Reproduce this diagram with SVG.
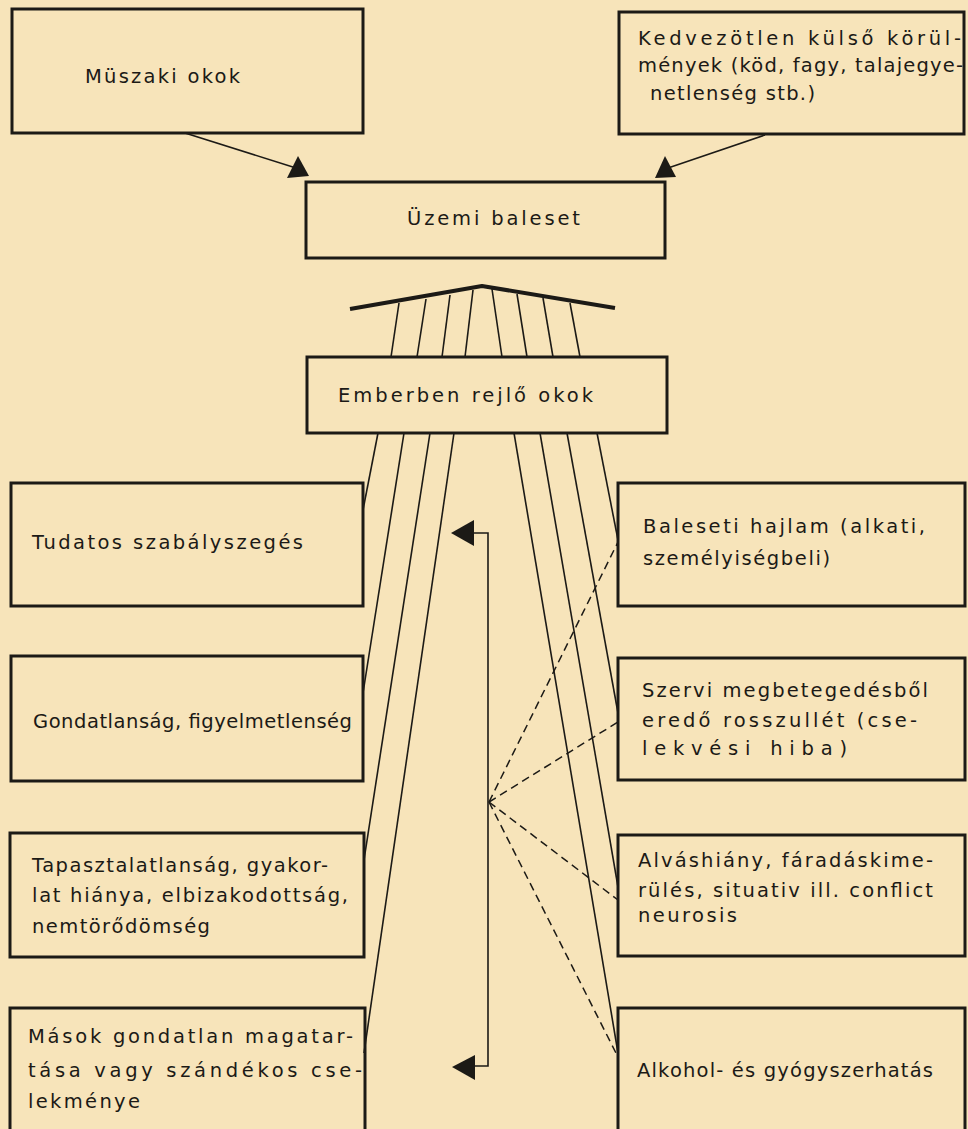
<svg xmlns="http://www.w3.org/2000/svg" width="968" height="1129" viewBox="0 0 968 1129">
<style>
.bg{fill:#F7E4BA}
.box{fill:none;stroke:#1c1a16;stroke-width:3}
.ln{fill:none;stroke:#1c1a16;stroke-width:1.6}
.dash{fill:none;stroke:#1c1a16;stroke-width:1.5;stroke-dasharray:8 5}
.fan{fill:none;stroke:#1c1a16;stroke-width:4;stroke-linejoin:round}
.head{fill:#1c1a16}
text{font-family:"DejaVu Sans","Liberation Sans",sans-serif;font-size:19.5px;fill:#1c1a16}
</style>
<rect class="bg" x="0" y="0" width="968" height="1129"/>

<g id="connectors">
  <line class="ln" x1="185" y1="133" x2="296" y2="168"/>
  <polygon class="head" points="298,156 287,178 309,176"/>
  <line class="ln" x1="765" y1="135" x2="668" y2="168"/>
  <polygon class="head" points="665,156 655,178 676,177"/>
  <polyline class="fan" points="350,309 482,286 615,308"/>
  <line class="ln" x1="399" y1="303" x2="391" y2="357"/>
  <line class="ln" x1="426" y1="299" x2="417" y2="357"/>
  <line class="ln" x1="450" y1="295" x2="442" y2="357"/>
  <line class="ln" x1="473" y1="290" x2="465" y2="357"/>
  <line class="ln" x1="492" y1="289" x2="502" y2="357"/>
  <line class="ln" x1="517" y1="294" x2="527" y2="357"/>
  <line class="ln" x1="543" y1="298" x2="553" y2="357"/>
  <line class="ln" x1="570" y1="303" x2="580" y2="357"/>
  <line class="ln" x1="378" y1="433" x2="363" y2="510"/>
  <line class="ln" x1="404" y1="433" x2="363" y2="693"/>
  <line class="ln" x1="430" y1="433" x2="364" y2="860"/>
  <line class="ln" x1="454" y1="433" x2="364" y2="1053"/>
  <line class="ln" x1="597" y1="433" x2="618" y2="540"/>
  <line class="ln" x1="567" y1="433" x2="618" y2="713"/>
  <line class="ln" x1="540" y1="433" x2="618" y2="887"/>
  <line class="ln" x1="514" y1="433" x2="618" y2="1053"/>
  <polyline class="ln" points="470,533 488,533 488,1066 472,1066"/>
  <polygon class="head" points="451,533 474,520 474,546"/>
  <polygon class="head" points="452,1067 475,1055 475,1080"/>
  <line class="dash" x1="489" y1="802" x2="618" y2="542"/>
  <line class="dash" x1="489" y1="802" x2="618" y2="722"/>
  <line class="dash" x1="489" y1="802" x2="618" y2="900"/>
  <line class="dash" x1="489" y1="802" x2="618" y2="1057"/>
</g>

<g id="muszaki">
  <rect class="box" x="12" y="9" width="351" height="124"/>
  <text x="85" y="83" textLength="155" lengthAdjust="spacing">Müszaki okok</text>
</g>
<g id="kedvezotlen">
  <rect class="box" x="619" y="12" width="345" height="122"/>
  <text x="638" y="45" textLength="323" lengthAdjust="spacing">Kedvezötlen külső körül-</text>
  <text x="638" y="72" textLength="325" lengthAdjust="spacing">mények (köd, fagy, talajegye-</text>
  <text x="650" y="100" textLength="165" lengthAdjust="spacing">netlenség stb.)</text>
</g>
<g id="uzemi">
  <rect class="box" x="306" y="182" width="359" height="76"/>
  <text x="407" y="225" font-size="21" textLength="173" lengthAdjust="spacing">Üzemi baleset</text>
</g>
<g id="emberben">
  <rect class="box" x="307" y="357" width="360" height="76"/>
  <text x="338" y="402" font-size="22" textLength="255" lengthAdjust="spacing">Emberben rejlő okok</text>
</g>
<g id="tudatos">
  <rect class="box" x="11" y="483" width="352" height="123"/>
  <text x="32" y="549" textLength="271" lengthAdjust="spacing">Tudatos szabályszegés</text>
</g>
<g id="gondatlansag">
  <rect class="box" x="11" y="656" width="352" height="125"/>
  <text x="33" y="728" textLength="319" lengthAdjust="spacing">Gondatlanság, figyelmetlenség</text>
</g>
<g id="tapasztalatlansag">
  <rect class="box" x="10" y="833" width="354" height="124"/>
  <text x="32" y="872" textLength="296" lengthAdjust="spacing">Tapasztalatlanság, gyakor-</text>
  <text x="32" y="902" textLength="316" lengthAdjust="spacing">lat hiánya, elbizakodottság,</text>
  <text x="32" y="933" textLength="178" lengthAdjust="spacing">nemtörődömség</text>
</g>
<g id="masok">
  <rect class="box" x="10" y="1008" width="355" height="130"/>
  <text x="28" y="1043" textLength="325" lengthAdjust="spacing">Mások gondatlan magatar-</text>
  <text x="28" y="1077" textLength="334" lengthAdjust="spacing">tása vagy szándékos cse-</text>
  <text x="28" y="1108" textLength="112" lengthAdjust="spacing">lekménye</text>
</g>
<g id="baleseti">
  <rect class="box" x="618" y="483" width="347" height="123"/>
  <text x="643" y="533" textLength="282" lengthAdjust="spacing">Baleseti hajlam (alkati,</text>
  <text x="643" y="565" textLength="187" lengthAdjust="spacing">személyiségbeli)</text>
</g>
<g id="szervi">
  <rect class="box" x="618" y="658" width="347" height="122"/>
  <text x="642" y="697" textLength="286" lengthAdjust="spacing">Szervi megbetegedésből</text>
  <text x="642" y="727" textLength="275" lengthAdjust="spacing">eredő rosszullét (cse-</text>
  <text x="642" y="755" textLength="205" lengthAdjust="spacing">lekvési hiba)</text>
</g>
<g id="alvashiany">
  <rect class="box" x="618" y="835" width="347" height="121"/>
  <text x="638" y="867" textLength="295" lengthAdjust="spacing">Alváshiány, fáradáskime-</text>
  <text x="638" y="897" textLength="295" lengthAdjust="spacing">rülés, situativ ill. conflict</text>
  <text x="638" y="922" textLength="99" lengthAdjust="spacing">neurosis</text>
</g>
<g id="alkohol">
  <rect class="box" x="618" y="1008" width="347" height="130"/>
  <text x="637" y="1077" textLength="296" lengthAdjust="spacing">Alkohol- és gyógyszerhatás</text>
</g>
</svg>
